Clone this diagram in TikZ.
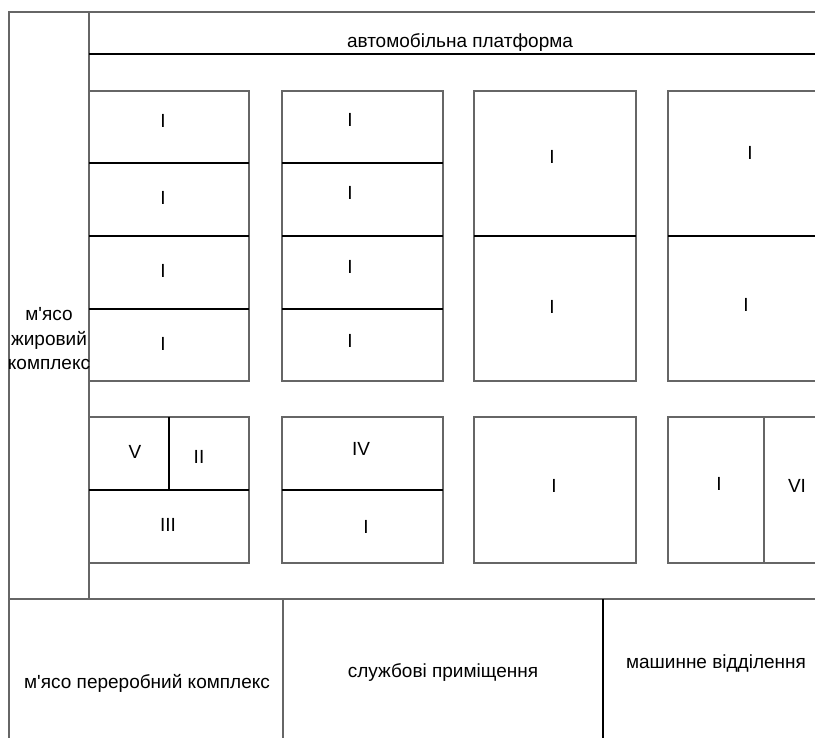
\documentclass[tikz,border=0pt]{standalone}
\usepackage{fontspec}
\setmainfont{Liberation Sans}
\usepackage{tikz}
\tikzstyle{wall} = [draw=black!60, line width=1.2pt]
\tikzstyle{part} = [draw=black, line width=1.1pt]
\tikzstyle{roomtext} = [anchor=base, inner sep=0pt, align=center, font=\fontsize{19}{24.5}\selectfont]

\begin{document}
\begin{tikzpicture}[x=1pt, y=-1pt]
        \useasboundingbox (0,0) rectangle (815,738);

        \draw [wall] (815,12) -- (9,12) -- (9,738);
        \draw [wall] (89,12) -- (89,599);
        \draw [part] (89,54) -- (815,54);
        \draw [wall] (9,599) -- (815,599);
        \draw [wall] (283,599) -- (283,738);
        \draw [part] (603,599) -- (603,738);

        \draw [wall] (89,91) rectangle (249,381);
        \draw [part] (89,163) -- (249,163) (89,236) -- (249,236) (89,309) -- (249,309);
        \draw [wall] (282,91) rectangle (443,381);
        \draw [part] (282,163) -- (443,163) (282,236) -- (443,236) (282,309) -- (443,309);
        \draw [wall] (474,91) rectangle (636,381);
        \draw [part] (474,236) -- (636,236);
        \draw [wall] (815,91) -- (668,91) -- (668,381) -- (815,381);
        \draw [part] (668,236) -- (815,236);

        \draw [wall] (89,417) rectangle (249,563);
        \draw [part] (89,490) -- (249,490) (169,417) -- (169,490);
        \draw [wall] (282,417) rectangle (443,563);
        \draw [part] (282,490) -- (443,490);
        \draw [wall] (474,417) rectangle (636,563);
        \draw [wall] (815,417) -- (668,417) -- (668,563) -- (815,563);
        \draw [wall] (764,417) -- (764,563);

        \node (platform) [roomtext] at (460,48) {автомобільна платформа};
        \node (fat) [roomtext, anchor=center] at (49,339) {м\textquotesingle ясо\\жировий\\комплекс};
        \node (meat) [roomtext] at (147,688) {м\textquotesingle ясо переробний комплекс};
        \node (office) [roomtext] at (443,677) {службові приміщення};
        \node (engine) [roomtext] at (716,668) {машинне відділення};

        \node (a1) [roomtext] at (163,128) {I};
        \node (a2) [roomtext] at (163,205) {I};
        \node (a3) [roomtext] at (163,278) {I};
        \node (a4) [roomtext] at (163,351) {I};
        \node (b1) [roomtext] at (350,127) {I};
        \node (b2) [roomtext] at (350,200) {I};
        \node (b3) [roomtext] at (350,274) {I};
        \node (b4) [roomtext] at (350,348) {I};
        \node (c1) [roomtext] at (552,164) {I};
        \node (c2) [roomtext] at (552,314) {I};
        \node (d1) [roomtext] at (750,160) {I};
        \node (d2) [roomtext] at (746,312) {I};

        \node (a5) [roomtext] at (135,458) {V};
        \node (a6) [roomtext] at (199,463) {II};
        \node (a7) [roomtext] at (168,531) {III};
        \node (b5) [roomtext] at (361,456) {IV};
        \node (b6) [roomtext] at (366,533) {I};
        \node (c3) [roomtext] at (554,493) {I};
        \node (d3) [roomtext] at (719,490) {I};
        \node (d4) [roomtext] at (797,493) {VI};
\end{tikzpicture}
\end{document}
